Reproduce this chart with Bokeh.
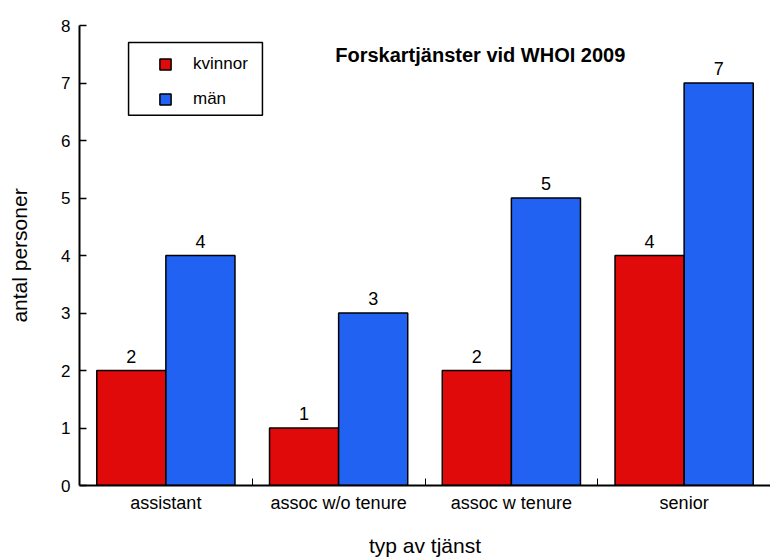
import numpy as np
from bokeh.plotting import figure
from bokeh.models import (ColumnDataSource, FixedTicker, Legend, LegendItem,
                          BoxAnnotation, Label, Range1d)
from bokeh.core.properties import value
from bokeh.embed import file_html
from bokeh.resources import INLINE

categories = ["assistant", "assoc w/o tenure", "assoc w tenure", "senior"]
kvinnor = [2, 1, 2, 4]
man = [4, 3, 5, 7]
series_names = ["kvinnor", "män"]
title_text = "Forskartjänster vid WHOI 2009"
y_ticks = [0, 1, 2, 3, 4, 5, 6, 7, 8]

FONT = "Liberation Sans"
RED = "#e00a0a"
BLUE = "#2262f2"

n = len(categories)
centers = np.arange(n) + 0.5
bw = 0.4

src_k = ColumnDataSource(dict(x=centers - bw / 2, top=kvinnor,
                              lab=[str(v) for v in kvinnor]))
src_m = ColumnDataSource(dict(x=centers + bw / 2, top=man,
                              lab=[str(v) for v in man]))

p = figure(width=770, height=559, output_backend="svg", toolbar_location=None,
           x_range=Range1d(0, n), y_range=Range1d(0, 8),
           min_border_left=79, min_border_right=0, min_border_top=25,
           min_border_bottom=72)
p.outline_line_color = None
p.xgrid.visible = False
p.ygrid.visible = False
p.background_fill_color = "white"

rk = p.vbar(x="x", top="top", width=bw, bottom=0, source=src_k,
            fill_color=RED, line_color="black", line_width=1.5)
rm = p.vbar(x="x", top="top", width=bw, bottom=0, source=src_m,
            fill_color=BLUE, line_color="black", line_width=1.5)

for s in (src_k, src_m):
    p.text(x="x", y="top", text="lab", source=s, text_align="center",
           text_baseline="bottom", y_offset=-8, text_font_size="18px",
           text_font=value(FONT), text_color="black")

# axes
xa = p.xaxis[0]
xa.ticker = FixedTicker(ticks=list(centers), minor_ticks=list(range(1, n)))
xa.major_label_overrides = {float(c): lab for c, lab in zip(centers, categories)}
xa.major_tick_in = 0
xa.major_tick_out = 0
xa.minor_tick_in = 7
xa.minor_tick_out = 0
xa.minor_tick_line_color = "black"
xa.axis_line_width = 2
xa.axis_line_color = "black"
xa.major_label_text_font = FONT
xa.major_label_text_font_size = "18px"
xa.major_label_text_color = "black"
xa.major_label_standoff = 7
xa.axis_label = "typ av tjänst"
xa.axis_label_text_font = FONT
xa.axis_label_text_font_size = "21px"
xa.axis_label_text_font_style = "normal"
xa.axis_label_text_color = "black"
xa.axis_label_standoff = 18

ya = p.yaxis[0]
ya.ticker = FixedTicker(ticks=y_ticks, minor_ticks=[])
ya.major_tick_in = 7
ya.major_tick_out = 0
ya.major_tick_line_color = "black"
ya.major_tick_line_width = 1.5
ya.axis_line_width = 2
ya.axis_line_color = "black"
ya.major_label_text_font = FONT
ya.major_label_text_font_size = "17px"
ya.major_label_text_color = "black"
ya.major_label_standoff = 9
ya.axis_label = "antal personer"
ya.axis_label_text_font = FONT
ya.axis_label_text_font_size = "21px"
ya.axis_label_text_font_style = "normal"
ya.axis_label_text_color = "black"
ya.axis_label_standoff = 27

# title
p.add_layout(Label(x=2.32, y=7.48, text=title_text, text_align="center",
                   text_baseline="middle", text_font=FONT,
                   text_font_size="20px", text_font_style="bold",
                   text_color="black"))

# legend box
p.add_layout(BoxAnnotation(left=0.284, right=1.059, bottom=6.44, top=7.706,
                           fill_alpha=0, line_color="black", line_width=1.5,
                           line_alpha=1))

legend = Legend(items=[LegendItem(label=series_names[0], renderers=[rk]),
                       LegendItem(label=series_names[1], renderers=[rm])],
                location=(79, 376), padding=0, margin=0, spacing=15,
                glyph_width=14, glyph_height=14, label_height=17,
                label_standoff=21, border_line_alpha=0,
                background_fill_alpha=0, label_text_font=FONT,
                label_text_font_size="17px", label_text_color="black",
                label_text_baseline="middle")
p.add_layout(legend)

open("out.html", "w").write(file_html(p, INLINE))
